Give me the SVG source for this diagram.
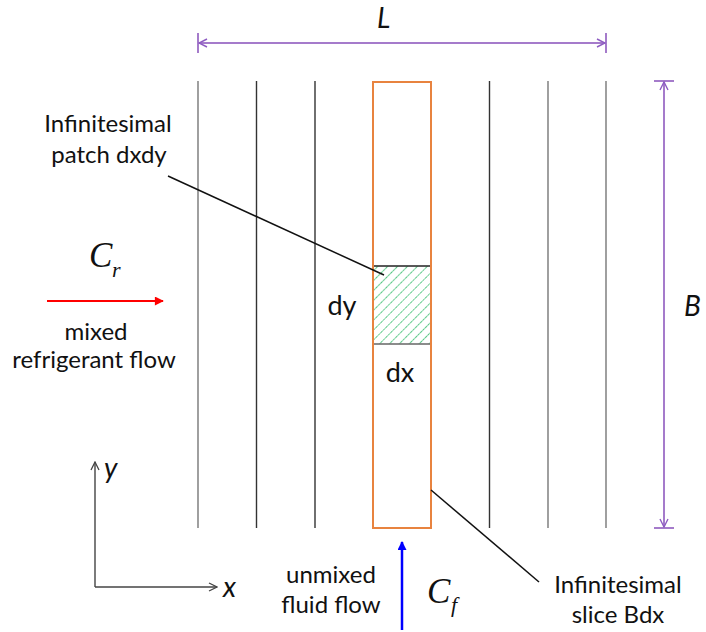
<svg xmlns="http://www.w3.org/2000/svg" width="706" height="632" viewBox="0 0 706 632">
<style>
.lbl{font-family:Lato,"Open Sans","Liberation Sans",sans-serif;font-size:24px;fill:#111;text-anchor:middle}
.big{font-size:27px}
.it{font-family:Lato,"Open Sans","Liberation Sans",sans-serif;font-size:28px;font-style:italic;fill:#111}
.math{font-family:"Liberation Serif","Times New Roman",serif;font-style:italic;fill:#111}
.dim{stroke:#A57BCB;stroke-width:2;fill:none}
.plate{stroke:#333;stroke-width:1.4}
.plate.g{stroke:#777}
.lead{stroke:#111;stroke-width:1.5;fill:none}
</style>
<defs>
<marker id="dimArr" viewBox="0 0 10 10" refX="9" refY="5" markerWidth="10" markerHeight="10" markerUnits="userSpaceOnUse" orient="auto-start-reverse">
<path d="M1,1 L9,5 L1,9" fill="none" stroke="#8E5CC2" stroke-width="1.4"/>
</marker>
<marker id="axArr" viewBox="0 0 10 10" refX="9" refY="5" markerWidth="10" markerHeight="10" markerUnits="userSpaceOnUse" orient="auto">
<path d="M1,1 L9,5 L1,9" fill="none" stroke="#444" stroke-width="1.3"/>
</marker>
<marker id="redHead" viewBox="0 0 10 10" refX="9" refY="5" markerWidth="10" markerHeight="9" markerUnits="userSpaceOnUse" orient="auto">
<path d="M0,0 L10,5 L0,10 Z" fill="#FF0000"/>
</marker>
<marker id="blueHead" viewBox="0 0 10 10" refX="9" refY="5" markerWidth="11" markerHeight="9" markerUnits="userSpaceOnUse" orient="auto">
<path d="M0,0 L10,5 L0,10 Z" fill="#0000FF"/>
</marker>
<pattern id="hatch" patternUnits="userSpaceOnUse" width="7" height="7" patternTransform="rotate(45)">
<line x1="0" y1="0" x2="0" y2="7" stroke="#8FDCAE" stroke-width="2"/>
<line x1="0" y1="0" x2="0" y2="7" stroke="#1FAF5A" stroke-width="1" stroke-dasharray="1 2"/>
</pattern>
</defs>
<rect width="706" height="632" fill="#fff"/>

<g id="plates">
<line class="plate g" x1="198" y1="81" x2="198" y2="528"/>
<line class="plate" x1="256.5" y1="81" x2="256.5" y2="528"/>
<line class="plate" x1="315" y1="81" x2="315" y2="528"/>
<line class="plate" x1="489.5" y1="81" x2="489.5" y2="528"/>
<line class="plate g" x1="548" y1="81" x2="548" y2="528"/>
<line class="plate g" x1="606" y1="81" x2="606" y2="528"/>
</g>

<g id="patch">
<rect x="373" y="266" width="58" height="78" fill="url(#hatch)"/>
<line x1="373" y1="266" x2="431" y2="266" stroke="#222" stroke-width="1.5"/>
<line x1="373" y1="344" x2="431" y2="344" stroke="#666" stroke-width="1.5"/>
</g>

<g id="slice">
<rect x="373" y="82" width="58" height="446" fill="none" stroke="#E8833F" stroke-width="2"/>
</g>

<g id="dimL">
<line x1="198" y1="33" x2="198" y2="53" class="dim"/>
<line x1="606" y1="33" x2="606" y2="53" class="dim"/>
<line x1="199" y1="43" x2="605" y2="43" class="dim" marker-start="url(#dimArr)" marker-end="url(#dimArr)"/>
<text x="377" y="28" class="it">L</text>
</g>

<g id="dimB">
<line x1="654" y1="81" x2="674" y2="81" class="dim"/>
<line x1="654" y1="528" x2="674" y2="528" class="dim"/>
<line x1="664" y1="82" x2="664" y2="527" class="dim" marker-start="url(#dimArr)" marker-end="url(#dimArr)"/>
<text x="684" y="316" class="it">B</text>
</g>

<g id="connectors">
<line class="lead" x1="168" y1="176" x2="384" y2="275"/>
<line class="lead" x1="431" y1="490" x2="539" y2="582"/>
</g>

<g id="patchLabel">
<text x="108" y="132" class="lbl">Infinitesimal</text>
<text x="109" y="163" class="lbl">patch dxdy</text>
</g>

<g id="dyLabel"><text x="342" y="315" class="lbl big">dy</text></g>
<g id="dxLabel"><text x="400" y="382" class="lbl big">dx</text></g>

<g id="refrigerant">
<text x="89" y="267" class="math" font-size="35">C</text>
<text x="112" y="277" class="math" font-size="22">r</text>
<line x1="47" y1="301" x2="163" y2="301" stroke="#FF0000" stroke-width="2" marker-end="url(#redHead)"/>
<text x="96" y="340" class="lbl">mixed</text>
<text x="94" y="368" class="lbl">refrigerant flow</text>
</g>

<g id="axes">
<line x1="95" y1="587" x2="95" y2="462" stroke="#444" stroke-width="1.4" marker-end="url(#axArr)"/>
<line x1="95" y1="587" x2="217" y2="587" stroke="#444" stroke-width="1.4" marker-end="url(#axArr)"/>
<text x="104" y="478" class="it">y</text>
<text x="223" y="597" class="it">x</text>
</g>

<g id="fluid">
<line x1="402" y1="630" x2="402" y2="542" stroke="#0000FF" stroke-width="2.5" marker-end="url(#blueHead)"/>
<text x="331" y="583" class="lbl">unmixed</text>
<text x="331" y="613" class="lbl">fluid flow</text>
<text x="427" y="603" class="math" font-size="35">C</text>
<text x="451" y="612" class="math" font-size="22">f</text>
</g>

<g id="sliceLabel">
<text x="618" y="593" class="lbl">Infinitesimal</text>
<text x="618" y="623" class="lbl">slice Bdx</text>
</g>
</svg>
